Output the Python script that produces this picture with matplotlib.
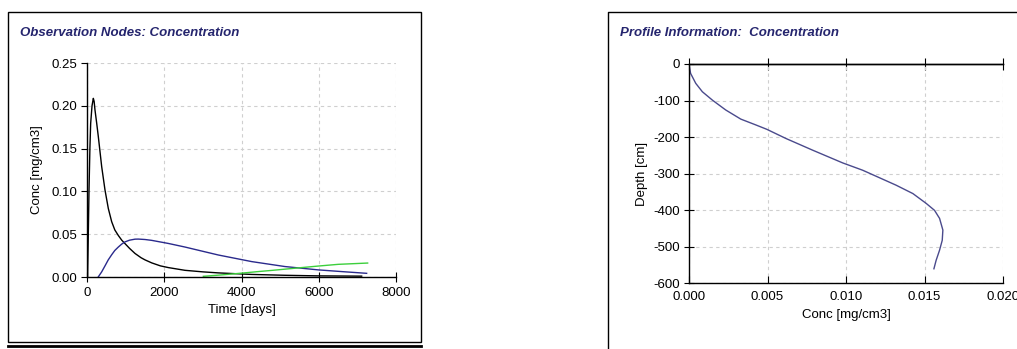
import matplotlib
matplotlib.use("Agg")
import matplotlib.pyplot as plt
from matplotlib.patches import Rectangle
from matplotlib.lines import Line2D

plt.rcParams['font.family'] = ['Liberation Sans', 'DejaVu Sans']
plt.rcParams['axes.unicode_minus'] = False

# ---- Observation nodes data ----
node1_time = [0, 15, 30, 52, 75, 95, 130, 164, 185, 207, 250, 293, 380, 466, 552, 639, 720, 811,
              900, 984, 1100, 1243, 1400, 1502, 1675, 1900, 2106, 2537, 3000, 3400, 4263,
              5126, 6000, 7111]
node1_conc = [0.0, 0.0, 0.04, 0.1016, 0.15, 0.1795, 0.20, 0.2087, 0.205, 0.195, 0.18, 0.164,
              0.129, 0.1016, 0.080, 0.0646, 0.055, 0.0485, 0.043, 0.039, 0.0335, 0.0275,
              0.0225, 0.020, 0.0165, 0.013, 0.011, 0.0078, 0.006, 0.0048, 0.003, 0.002,
              0.0013, 0.001]
node2_time = [290, 380, 466, 550, 639, 720, 811, 900, 984, 1100, 1243, 1329, 1502, 1675, 2106,
              2537, 3000, 3400, 4263, 5126, 5989, 6600, 7240]
node2_conc = [0.0, 0.006, 0.013, 0.020, 0.026, 0.031, 0.035, 0.0385, 0.041, 0.043, 0.0442,
              0.0443, 0.0438, 0.0428, 0.0392, 0.035, 0.030, 0.0257, 0.018, 0.0122, 0.0083,
              0.0063, 0.0043]
node3_time = [3012, 3442, 4004, 4400, 4780, 5300, 5989, 6507, 7266]
node3_conc = [0.0008, 0.0023, 0.0045, 0.0062, 0.0077, 0.0099, 0.0128, 0.0148, 0.0163]

time_ticks = [0, 2000, 4000, 6000, 8000]
conc_ticks = [0.00, 0.05, 0.10, 0.15, 0.20, 0.25]

# ---- Profile data ----
profile_conc = [0.0, 0.0001, 0.00043, 0.00085, 0.00149, 0.00234, 0.0033, 0.00426, 0.00496,
                0.00617, 0.00787, 0.00979, 0.01106, 0.01319, 0.01426, 0.01511, 0.01564,
                0.01596, 0.01617, 0.01613, 0.01596, 0.01574, 0.01560]
profile_depth = [0, -25.6, -53, -76, -99, -126, -151, -167, -179, -204, -236, -271, -291, -332,
                 -355, -382, -401, -423, -455, -483, -510, -538, -561]
pconc_ticks = [0.000, 0.005, 0.010, 0.015, 0.020]
depth_ticks = [0, -100, -200, -300, -400, -500, -600]

W, H = 1017, 349
fig = plt.figure(figsize=(W / 100, H / 100), dpi=100)
fig.patch.set_facecolor('white')

def fx(px):
    return px / W

def fy(py):
    return 1 - py / H

navy = '#25256e'
grid_kw = dict(color='#cfcfcf', linestyle=(0, (3, 3)), linewidth=0.8)

# Panel boxes
fig.add_artist(Rectangle((fx(8), fy(342)), fx(421) - fx(8), fy(12) - fy(342),
                         transform=fig.transFigure, fill=False, edgecolor='black', linewidth=1.0))
fig.add_artist(Line2D([fx(8), fx(421)], [fy(346), fy(346)], transform=fig.transFigure,
                      color='black', linewidth=2.0))
fig.add_artist(Line2D([fx(608), fx(608), fx(1017)], [fy(349), fy(12), fy(12)],
                      transform=fig.transFigure, color='black', linewidth=1.0))

fig.text(fx(20), fy(33), 'Observation Nodes: Concentration', color=navy, fontsize=9.5,
         fontweight='bold', fontstyle='italic', va='center', ha='left')
fig.text(fx(620), fy(33), 'Profile Information:  Concentration', color=navy, fontsize=9.5,
         fontweight='bold', fontstyle='italic', va='center', ha='left')

# ---- Left axes ----
ax1 = fig.add_axes([fx(87), fy(277), fx(396) - fx(87), fy(63) - fy(277)])
ax1.plot(node1_time, node1_conc, color='black', linewidth=1.0)
ax1.plot(node2_time, node2_conc, color='#2a2a8c', linewidth=1.0)
ax1.plot(node3_time, node3_conc, color='#3ccf3c', linewidth=1.0)
ax1.set_xlim(0, 8000)
ax1.set_ylim(0, 0.25)
ax1.set_xticks(time_ticks)
ax1.set_yticks(conc_ticks)
ax1.set_yticklabels([f'{v:.2f}' for v in conc_ticks])
ax1.grid(True, **grid_kw)
for s in ['top', 'right']:
    ax1.spines[s].set_visible(False)
ax1.tick_params(axis='y', direction='out', length=4, labelsize=9.5, pad=3)
ax1.tick_params(axis='x', direction='inout', length=7, labelsize=9.5, pad=4)
ax1.set_xlabel('Time [days]', fontsize=9.5, labelpad=3)
ax1.set_ylabel('Conc [mg/cm3]', fontsize=9.5, labelpad=6)

# ---- Right axes ----
ax2 = fig.add_axes([fx(689), fy(283), fx(1003) - fx(689), fy(64) - fy(283)])
ax2.plot(profile_conc, profile_depth, color='#4a4a8c', linewidth=1.0)
ax2.set_xlim(0, 0.020)
ax2.set_ylim(-600, 0)
ax2.set_xticks(pconc_ticks)
ax2.set_xticklabels([f'{v:.3f}' for v in pconc_ticks])
ax2.set_yticks(depth_ticks)
ax2.set_yticklabels([str(v) for v in depth_ticks])
ax2.grid(True, **grid_kw)
ax2.spines['right'].set_visible(False)
ax2.tick_params(axis='y', direction='inout', length=7, labelsize=9.5, pad=3)
ax2.tick_params(axis='x', direction='in', length=5, labelsize=9.5, pad=6)
top = ax2.secondary_xaxis('top')
top.set_xticks(pconc_ticks)
top.tick_params(axis='x', direction='inout', length=8, labeltop=False)
top.spines['top'].set_linewidth(1.0)
ax2.set_xlabel('Conc [mg/cm3]', fontsize=9.5, labelpad=4)
ax2.set_ylabel('Depth [cm]', fontsize=9.5, labelpad=4)
for a in (ax1, ax2):
    for sp in a.spines.values():
        sp.set_linewidth(1.0)

fig.savefig('out.png', dpi=100)
